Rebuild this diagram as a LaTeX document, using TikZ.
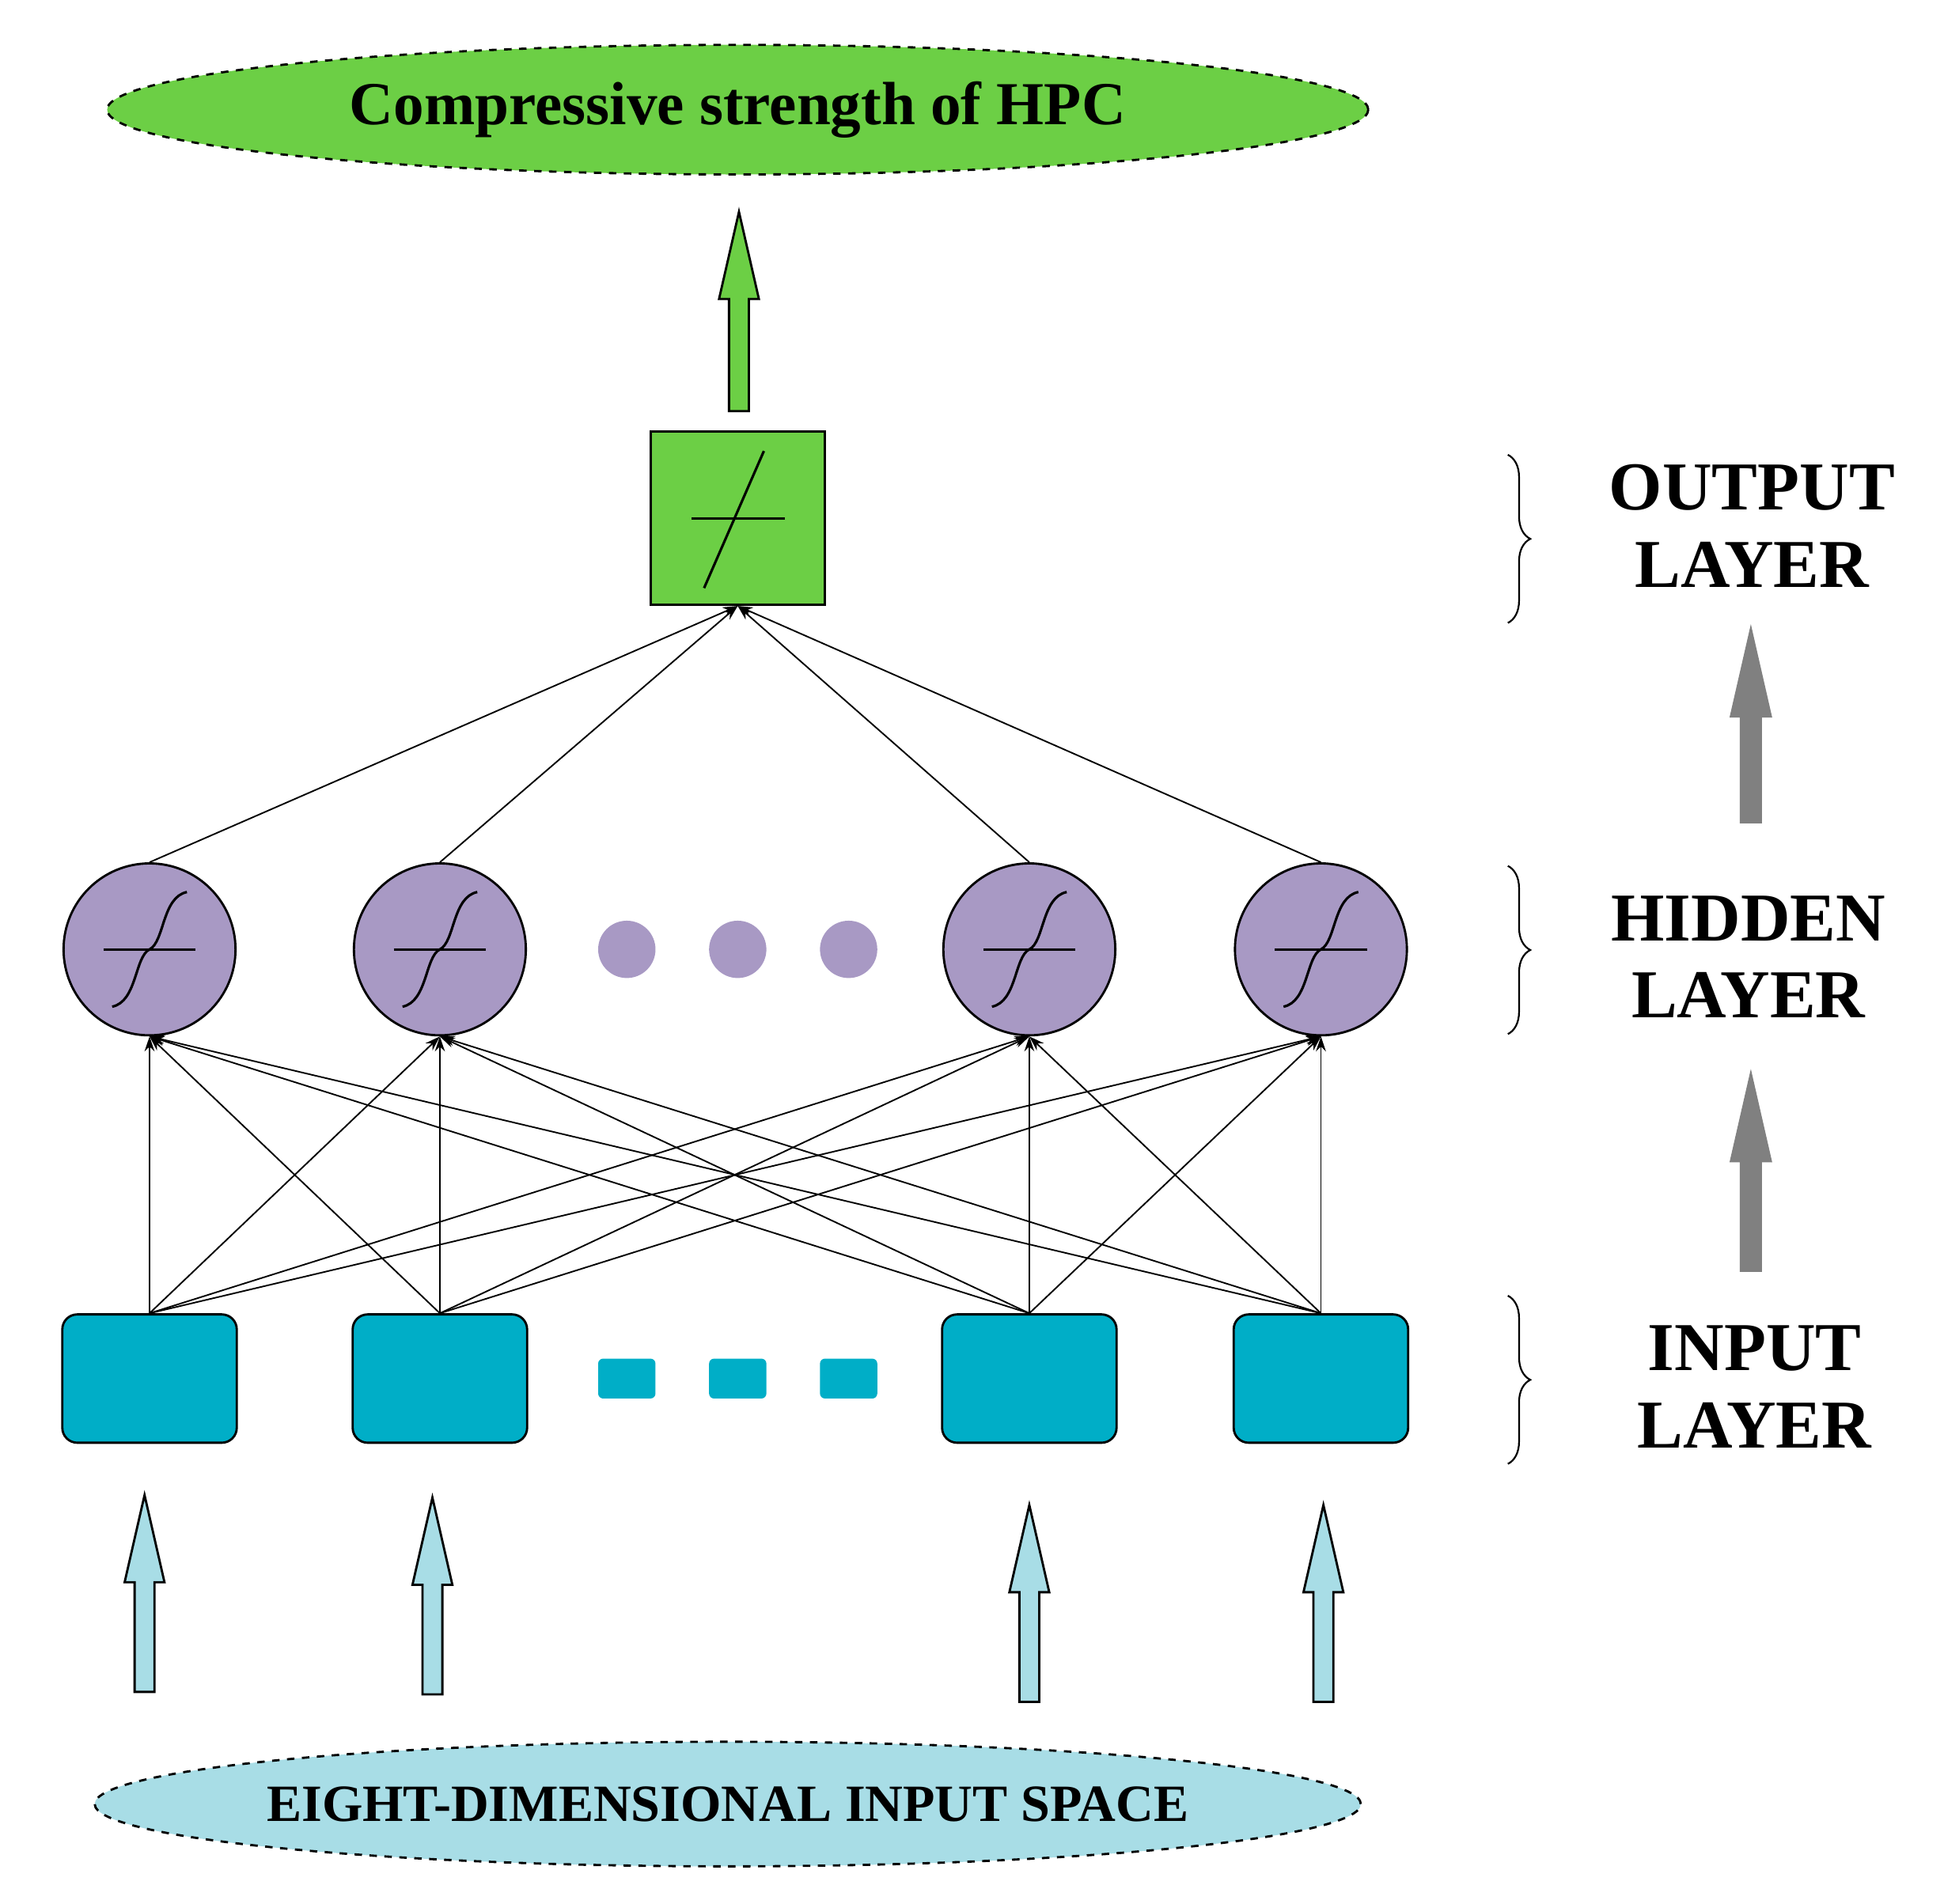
\documentclass[tikz,border=0pt]{standalone}
\usepackage{fontspec}
\setmainfont{Liberation Serif}
\usetikzlibrary{shapes.geometric,decorations.pathreplacing,arrows.meta}
\definecolor{grn}{HTML}{6CCF45}
\definecolor{pur}{HTML}{A899C4}
\definecolor{tea}{HTML}{00AEC7}
\definecolor{lbl}{HTML}{A8DDE6}
\newcommand\fatarr[5]{% x, ybottom, ytop, fill, draw
  \filldraw[fill=#4,draw=#5,line width=0.9pt] (#1-8,#2) -- (#1+8,#2) -- (#1+8,#3+70) -- (#1+16,#3+70) -- (#1,#3) -- (#1-16,#3+70) -- (#1-8,#3+70) -- cycle;}
\begin{document}
\begin{tikzpicture}[x=0.5pt,y=-0.5pt,
  hid/.style={circle,draw,line width=0.9pt,fill=pur,minimum size=69pt,inner sep=0pt},
  inp/.style={rectangle,rounded corners=6pt,draw,line width=0.9pt,fill=tea,minimum width=70pt,minimum height=51.5pt,inner sep=0pt},
  con/.style={-{Stealth[length=6pt,width=4pt]},line width=0.6pt},
  lab/.style={font=\bfseries\fontsize{27.5}{31}\selectfont,align=center},
  br/.style={decorate,decoration={brace,amplitude=9pt},line width=0.7pt}]
\useasboundingbox (0,0) rectangle (1560,1528);
% top ellipse
\node[ellipse,draw,dashed,fill=grn,line width=0.9pt,minimum width=506pt,minimum height=52pt] (top) at (592,88) {};
\node[font=\bfseries\fontsize{24.5}{28}\selectfont] (toptext) at (top.center) {Compressive strength of HPC};
\fatarr{593}{330}{170}{grn}{black}
% output
\node[rectangle,draw,line width=0.9pt,fill=grn,minimum width=70pt,minimum height=69.5pt,inner sep=0pt] (out) at (592,416) {};
\draw[line width=1pt] (555,416) -- (630,416);
\draw[line width=1pt] (565,472) -- (613,362);
% hidden
\foreach \n/\x in {h1/120,h2/353,h3/826,h4/1060}{
  \node[hid] (\n) at (\x,762) {};
  \draw[line width=1pt] (\x-37,762) -- (\x+37,762);
  \draw[line width=1pt] (\x-30,808) .. controls (\x-10,804) and (\x-12,768) .. (\x,762) .. controls (\x+12,756) and (\x+10,720) .. (\x+30,716);
}
\foreach \n/\x in {d1/503,d2/592,d3/681}{\node[circle,fill=pur,minimum size=23pt,inner sep=0pt] (\n) at (\x,762) {};}
% inputs
\foreach \n/\x in {i1/120,i2/353,i3/826,i4/1060}{\node[inp] (\n) at (\x,1106.5) {};}
\foreach \n/\x in {s1/503,s2/592,s3/681}{\node[rectangle,rounded corners=2pt,fill=tea,minimum width=23pt,minimum height=16pt,inner sep=0pt] (\n) at (\x,1106.5) {};}
% connections
\foreach \i in {i1,i2,i3,i4}{\foreach \h in {h1,h2,h3,h4}{\draw[con] (\i.north) -- (\h.south);}}
\foreach \h in {h1,h2,h3,h4}{\draw[con] (\h.north) -- (out.south);}
% input arrows
\fatarr{116}{1358}{1200}{lbl}{black}
\fatarr{347}{1360}{1202}{lbl}{black}
\fatarr{826}{1366}{1208}{lbl}{black}
\fatarr{1062}{1366}{1208}{lbl}{black}
\node[ellipse,draw,dashed,fill=lbl,line width=0.9pt,minimum width=508pt,minimum height=50pt] (bot) at (584,1448) {};
\node[font=\bfseries\fontsize{21}{25}\selectfont] (bottext) at (bot.center) {EIGHT-DIMENSIONAL INPUT SPACE};
% braces and labels
\draw[br] (1210,365) -- (1210,500);
\draw[br] (1210,695) -- (1210,830);
\draw[br] (1210,1040) -- (1210,1175);
\node[lab] (lo) at (1406,422) {OUTPUT\\LAYER};
\node[lab] (lh) at (1403,768) {HIDDEN\\LAYER};
\node[lab] (li) at (1408,1113) {INPUT\\LAYER};
\fatarr{1405}{660}{505}{gray}{gray}
\fatarr{1405}{1020}{862}{gray}{gray}
\end{tikzpicture}
\end{document}
